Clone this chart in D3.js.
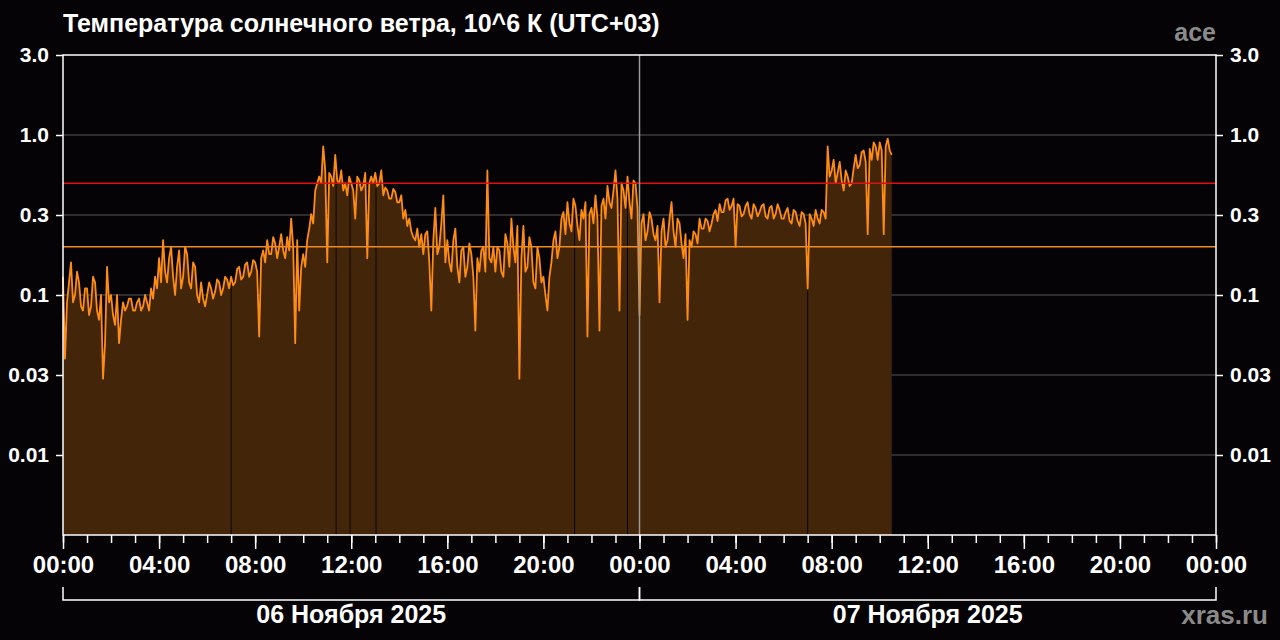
<!DOCTYPE html>
<html>
<head>
<meta charset="utf-8">
<script src="https://cdn.jsdelivr.net/npm/d3@7"></script>
<style>
  body { margin: 0; background: #050305; }
  svg { display: block; font-family: "Liberation Sans", Arial, sans-serif; font-weight: bold; }
</style>
</head>
<body>
<div class="canvas"></div>
<script>
// solar wind temperature, 10^6 K (UTC+03), from 06 Nov 00:00
// one reading every 10 minutes, plus the reading 5 minutes after each
const stepMinutes = 10;
const temperature = [
  0.13, 0.09, 0.16, 0.10, 0.12, 0.08,     // 00h
  0.11, 0.085, 0.12, 0.07, 0.03, 0.15,    // 01h
  0.10, 0.065, 0.05, 0.09, 0.085, 0.095,  // 02h
  0.08, 0.095, 0.085, 0.09, 0.11, 0.13,   // 03h
  0.17, 0.22, 0.12, 0.20, 0.10, 0.19,     // 04h
  0.13, 0.18, 0.11, 0.15, 0.09, 0.095,    // 05h
  0.10, 0.11, 0.105, 0.12, 0.11, 0.125,   // 06h
  0.13, 0.12, 0.15, 0.13, 0.16, 0.14,     // 07h
  0.16, 0.055, 0.19, 0.22, 0.18, 0.21,    // 08h
  0.20, 0.19, 0.23, 0.30, 0.05, 0.08,     // 09h
  0.18, 0.22, 0.32, 0.45, 0.55, 0.85,     // 10h
  0.16, 0.55, 0.75, 0.50, 0.45, 0.42,     // 11h
  0.50, 0.30, 0.52, 0.48, 0.17, 0.55,     // 12h
  0.58, 0.50, 0.42, 0.45, 0.40, 0.44,     // 13h
  0.38, 0.30, 0.27, 0.25, 0.22, 0.20,     // 14h
  0.18, 0.25, 0.08, 0.35, 0.20, 0.42,     // 15h
  0.22, 0.14, 0.26, 0.12, 0.20, 0.15,     // 16h
  0.18, 0.06, 0.14, 0.20, 0.60, 0.16,     // 17h
  0.14, 0.19, 0.13, 0.21, 0.30, 0.16,     // 18h
  0.03, 0.27, 0.15, 0.20, 0.11, 0.17,     // 19h
  0.13, 0.08, 0.16, 0.25, 0.20, 0.33,     // 20h
  0.38, 0.25, 0.36, 0.22, 0.30, 0.055,    // 21h
  0.35, 0.42, 0.06, 0.40, 0.48, 0.35,     // 22h
  0.60, 0.08, 0.45, 0.55, 0.30, 0.50,     // 23h
  0.075, 0.32, 0.25, 0.30, 0.22, 0.09,    // 00h (07 Nov)
  0.30, 0.22, 0.38, 0.20, 0.28, 0.17,     // 01h
  0.07, 0.20, 0.24, 0.30, 0.26, 0.29,     // 02h
  0.28, 0.34, 0.37, 0.33, 0.40, 0.36,     // 03h
  0.20, 0.36, 0.32, 0.38, 0.30, 0.35,     // 04h
  0.33, 0.37, 0.30, 0.36, 0.32, 0.34,     // 05h
  0.30, 0.35, 0.28, 0.33, 0.27, 0.32,     // 06h
  0.11, 0.30, 0.34, 0.28, 0.33, 0.85,     // 07h
  0.60, 0.50, 0.68, 0.45, 0.55, 0.50,     // 08h
  0.75, 0.65, 0.80, 0.24, 0.70, 0.85,     // 09h
  0.90, 0.24, 0.95, 0.75                  // 10h
];
const temperatureMid = [
  0.04, 0.12, 0.09, 0.14, 0.085, 0.11,    // 00h
  0.075, 0.13, 0.08, 0.10, 0.05, 0.09,    // 01h
  0.075, 0.10, 0.07, 0.08, 0.095, 0.08,   // 02h
  0.09, 0.08, 0.10, 0.08, 0.095, 0.11,    // 03h
  0.12, 0.14, 0.17, 0.13, 0.15, 0.11,     // 04h
  0.20, 0.12, 0.16, 0.10, 0.12, 0.085,    // 05h
  0.12, 0.095, 0.125, 0.10, 0.13, 0.11,   // 06h
  0.115, 0.145, 0.125, 0.155, 0.13, 0.165,// 07h
  0.14, 0.17, 0.16, 0.18, 0.23, 0.17,     // 08h
  0.24, 0.17, 0.19, 0.20, 0.22, 0.15,     // 09h
  0.15, 0.26, 0.28, 0.50, 0.50, 0.60,     // 10h
  0.58, 0.48, 0.52, 0.60, 0.50, 0.55,     // 11h
  0.45, 0.55, 0.45, 0.58, 0.50, 0.50,     // 12h
  0.48, 0.60, 0.47, 0.40, 0.46, 0.38,     // 13h
  0.42, 0.34, 0.30, 0.23, 0.26, 0.24,     // 14h
  0.24, 0.16, 0.22, 0.18, 0.28, 0.16,     // 15h
  0.16, 0.22, 0.15, 0.19, 0.13, 0.21,     // 16h
  0.13, 0.17, 0.19, 0.14, 0.17, 0.20,     // 17h
  0.20, 0.14, 0.24, 0.15, 0.20, 0.27,     // 18h
  0.17, 0.14, 0.23, 0.12, 0.20, 0.12,     // 19h
  0.10, 0.13, 0.22, 0.17, 0.30, 0.24,     // 20h
  0.28, 0.40, 0.27, 0.34, 0.38, 0.32,     // 21h
  0.28, 0.30, 0.36, 0.30, 0.38, 0.45,     // 22h
  0.40, 0.50, 0.35, 0.38, 0.52, 0.35,     // 23h
  0.28, 0.22, 0.33, 0.24, 0.27, 0.25,     // 00h (07 Nov)
  0.20, 0.30, 0.25, 0.30, 0.21, 0.24,     // 01h
  0.22, 0.25, 0.21, 0.26, 0.30, 0.25,     // 02h
  0.32, 0.29, 0.33, 0.39, 0.34, 0.40,     // 03h
  0.37, 0.31, 0.36, 0.32, 0.37, 0.31,     // 04h
  0.36, 0.31, 0.35, 0.30, 0.37, 0.30,     // 05h
  0.33, 0.29, 0.34, 0.29, 0.33, 0.28,     // 06h
  0.32, 0.27, 0.30, 0.34, 0.30, 0.55,     // 07h
  0.70, 0.58, 0.52, 0.60, 0.48, 0.62,     // 08h
  0.62, 0.78, 0.68, 0.82, 0.90, 0.70,     // 09h
  0.80, 0.85, 0.80                        // 10h
];
// data gaps (hours since 06 Nov 00:00)
const gapHours = [7.0, 11.37, 11.95, 13.03, 21.3, 23.5, 31.0];
// reference levels
const redLevel = 0.5;
const orangeLevel = 0.2;

const yTickValues = [Math.sqrt(10), 1, 1 / Math.sqrt(10), 0.1, 0.01 * Math.sqrt(10), 0.01];
const yTickLabels = ['3.0', '1.0', '0.3', '0.1', '0.03', '0.01'];
const dayLabels = ['06 Ноября 2025', '07 Ноября 2025'];

const svgWidth = 1280;
const svgHeight = 640;
const margin = { top: 55, right: 64, bottom: 105, left: 63 };
const graphWidth = svgWidth - margin.left - margin.right;
const graphHeight = svgHeight - margin.top - margin.bottom;

const svg = d3.select('.canvas')
  .append('svg')
  .attr('width', svgWidth)
  .attr('height', svgHeight);

svg.append('rect').attr('width', svgWidth).attr('height', svgHeight).attr('fill', '#050305');

const graph = svg.append('g')
  .attr('transform', `translate(${margin.left}, ${margin.top})`);

const t0 = Date.UTC(2025, 10, 6, 0, 0);
const x = d3.scaleUtc()
  .domain([new Date(t0), new Date(Date.UTC(2025, 10, 8, 0, 0))])
  .range([0, graphWidth]);
const y = d3.scaleLog()
  .domain([Math.pow(10, -2.5), Math.pow(10, 0.5)])
  .range([graphHeight, 0]);

// merge the two readings into one time series
const data = [];
temperature.forEach((v, i) => {
  const t = t0 + i * stepMinutes * 60000;
  data.push({ t: new Date(t), v });
  if (i < temperatureMid.length) {
    data.push({ t: new Date(t + stepMinutes / 2 * 60000), v: temperatureMid[i] });
  }
});

// gridlines
graph.append('g')
  .selectAll('line')
  .data(yTickValues.slice(1))
  .enter().append('line')
  .attr('x1', 0).attr('x2', graphWidth)
  .attr('y1', d => y(d)).attr('y2', d => y(d))
  .attr('stroke', '#5a5a5a').attr('stroke-width', 1);

// filled area
graph.append('path')
  .datum(data)
  .attr('fill', '#43260a')
  .attr('d', d3.area().x(d => x(d.t)).y0(graphHeight).y1(d => y(d.v)));

// gaps in the data
const bisect = d3.bisector(d => d.t).left;
graph.append('g')
  .selectAll('line')
  .data(gapHours)
  .enter().append('line')
  .attr('x1', h => x(new Date(t0 + h * 3600000)))
  .attr('x2', h => x(new Date(t0 + h * 3600000)))
  .attr('y1', graphHeight)
  .attr('y2', h => {
    const i = Math.min(data.length - 1, bisect(data, new Date(t0 + h * 3600000)));
    return y(data[i].v) + 2;
  })
  .attr('stroke', '#0a0604').attr('stroke-width', 1);

graph.append('path')
  .datum(data)
  .attr('fill', 'none')
  .attr('stroke', '#ff8c12')
  .attr('stroke-width', 1.8)
  .attr('stroke-linejoin', 'round')
  .attr('d', d3.line().x(d => x(d.t)).y(d => y(d.v)));

// reference levels
graph.append('line')
  .attr('x1', 0).attr('x2', graphWidth)
  .attr('y1', y(redLevel)).attr('y2', y(redLevel))
  .attr('stroke', '#e01010').attr('stroke-width', 1.5);
graph.append('line')
  .attr('x1', 0).attr('x2', graphWidth)
  .attr('y1', y(orangeLevel)).attr('y2', y(orangeLevel))
  .attr('stroke', '#f08a20').attr('stroke-width', 1.5);

// midnight divider
const midnight = new Date(Date.UTC(2025, 10, 7, 0, 0));
graph.append('line')
  .attr('x1', x(midnight)).attr('x2', x(midnight))
  .attr('y1', 0).attr('y2', graphHeight)
  .attr('stroke', '#9a9a9a').attr('stroke-width', 1.5);

// frame
graph.append('rect')
  .attr('width', graphWidth).attr('height', graphHeight)
  .attr('fill', 'none').attr('stroke', '#ffffff').attr('stroke-width', 1.5);

// y axes
const yLeft = d3.axisLeft(y).tickValues(yTickValues).tickSize(7).tickPadding(7)
  .tickFormat((d, i) => yTickLabels[i]);
const yRight = d3.axisRight(y).tickValues(yTickValues).tickSize(7).tickPadding(7)
  .tickFormat((d, i) => yTickLabels[i]);
const yLeftGroup = graph.append('g').call(yLeft);
const yRightGroup = graph.append('g').attr('transform', `translate(${graphWidth}, 0)`).call(yRight);

// x axis: hourly minor, 4-hourly major ticks
const xMinor = d3.axisBottom(x).ticks(d3.utcHour.every(1)).tickSize(8).tickFormat('');
const xMajor = d3.axisBottom(x).ticks(d3.utcHour.every(4)).tickSize(14).tickPadding(7)
  .tickFormat(d3.utcFormat('%H:%M'));
const xMinorGroup = graph.append('g').attr('transform', `translate(0, ${graphHeight})`).call(xMinor);
const xMajorGroup = graph.append('g').attr('transform', `translate(0, ${graphHeight})`).call(xMajor);

[yLeftGroup, yRightGroup, xMinorGroup, xMajorGroup].forEach(g => {
  g.select('.domain').remove();
  g.selectAll('line').attr('stroke', '#ffffff').attr('stroke-width', 1.5);
  g.selectAll('text').attr('fill', '#ffffff').attr('font-size', 21)
    .attr('font-family', null).attr('font-weight', 'bold');
});
xMajorGroup.selectAll('text').attr('font-size', 24);

// day brackets
const days = [
  [new Date(t0), midnight],
  [midnight, new Date(Date.UTC(2025, 10, 8, 0, 0))]
];
const bracket = graph.append('g').attr('transform', `translate(0, ${graphHeight})`);
days.forEach((d, i) => {
  const x0 = x(d[0]), x1 = x(d[1]);
  bracket.append('path')
    .attr('d', `M${x0},52V65H${x1}V52`)
    .attr('fill', 'none').attr('stroke', '#ffffff').attr('stroke-width', 1.5);
  bracket.append('text')
    .attr('x', (x0 + x1) / 2).attr('y', 88)
    .attr('text-anchor', 'middle')
    .attr('fill', '#ffffff').attr('font-size', 25)
    .text(dayLabels[i]);
});

// titles
svg.append('text')
  .attr('x', 63).attr('y', 32)
  .attr('fill', '#ffffff').attr('font-size', 25)
  .text('Температура солнечного ветра, 10^6 К (UTC+03)');
svg.append('text')
  .attr('x', 1216).attr('y', 41)
  .attr('text-anchor', 'end')
  .attr('fill', '#8a8a8a').attr('font-size', 25)
  .text('ace');
svg.append('text')
  .attr('x', 1268).attr('y', 624)
  .attr('text-anchor', 'end')
  .attr('fill', '#8a8a8a').attr('font-size', 26)
  .text('xras.ru');
</script>
</body>
</html>
